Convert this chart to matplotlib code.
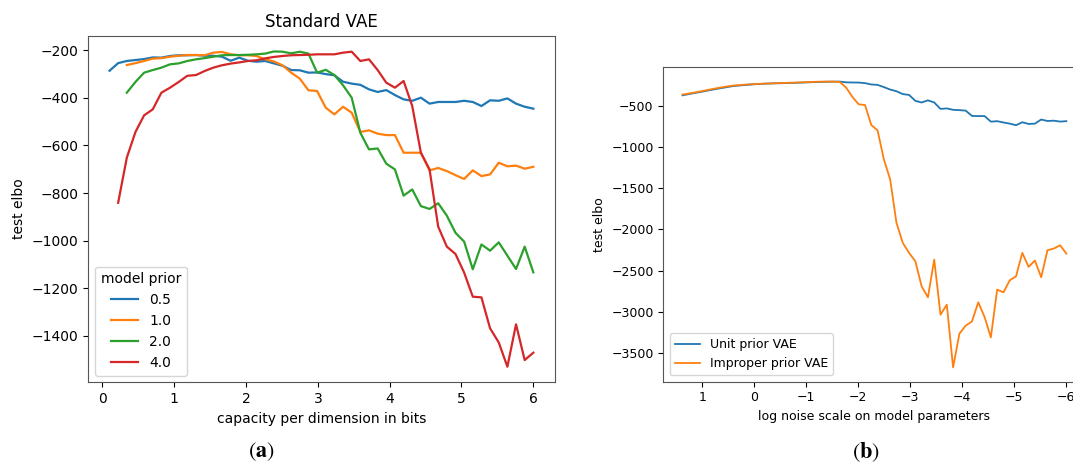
"""
Two VAE panels side by side: test elbo vs capacity (a) and vs log noise scale (b).
"""

import numpy as np
import matplotlib.pyplot as plt

plt.rcParams['mathtext.fontset'] = 'stix'

# (a) capacity per dimension in bits, common grid
capacity = np.linspace(0.1, 6.0, 50)

prior_05 = [-287, -255, -246, -242, -238, -231, -232, -225, -222, -222,
            -221, -224, -224, -228, -245, -232, -245, -249, -246, -256,
            -266, -284, -285, -295, -294, -301, -306, -333, -341, -346,
            -365, -376, -368, -389, -407, -413, -400, -425, -418, -418,
            -418, -413, -418, -435, -411, -413, -403, -425, -438, -446]

# starts at the third grid point
prior_10 = [-263, -255, -246, -236, -234, -228, -224, -221, -221, -222,
            -211, -208, -218, -222, -222, -225, -239, -248, -264, -295,
            -320, -369, -372, -442, -470, -438, -463, -544, -537, -551,
            -557, -557, -631, -631, -631, -705, -695, -708, -725, -741,
            -705, -729, -722, -673, -688, -685, -698, -690]

# starts at the third grid point
prior_20 = [-379, -334, -295, -284, -274, -260, -256, -246, -239, -234,
            -228, -222, -221, -221, -220, -218, -215, -206, -207, -214,
            -207, -215, -295, -283, -305, -348, -400, -547, -617, -613,
            -677, -701, -811, -785, -855, -867, -843, -895, -967, -1004,
            -1120, -1016, -1042, -1007, -1063, -1119, -1025, -1133]

# starts at the second grid point
prior_40 = [-841, -652, -544, -474, -449, -379, -358, -334, -308, -305,
            -288, -274, -264, -257, -252, -246, -243, -235, -229, -225,
            -222, -221, -220, -218, -218, -218, -211, -207, -246, -239,
            -284, -337, -358, -330, -435, -631, -701, -941, -1025, -1056,
            -1134, -1235, -1238, -1368, -1427, -1529, -1351, -1501, -1470]

prior_labels = ['0.5', '1.0', '2.0', '4.0']

# (b) log noise scale on model parameters (axis runs right to left)
noise = np.linspace(1.377, -6.0, 62)

unit_prior = [-370, -355, -341, -327, -312, -298, -284, -271, -258, -251,
              -244, -238, -233, -229, -226, -224, -222, -220, -218, -215,
              -212, -209, -207, -205, -204, -203, -212, -214, -215, -222,
              -238, -243, -270, -300, -320, -355, -365, -437, -457, -431,
              -457, -535, -529, -546, -550, -556, -620, -622, -622, -690,
              -684, -700, -714, -733, -697, -718, -714, -664, -682, -678,
              -689, -684]

improper_prior = [-361, -348, -335, -320, -305, -290, -276, -263, -252, -246,
                  -240, -235, -231, -228, -225, -222, -220, -217, -215, -212,
                  -209, -206, -204, -203, -203, -208, -276, -390, -479, -488,
                  -731, -796, -1149, -1392, -1919, -2162, -2284, -2386, -2691, -2824,
                  -2366, -3035, -2913, -3676, -3266, -3169, -3117, -2885, -3063, -3311,
                  -2731, -2764, -2618, -2569, -2284, -2454, -2378, -2581, -2252, -2232,
                  -2192, -2293]


fig = plt.figure(figsize=(10.73, 4.66), dpi=100)

# left panel
ax1 = fig.add_axes([0.0823, 0.1792, 0.4345, 0.7442])
ax1.plot(capacity, prior_05, label=prior_labels[0], linewidth=1.6)
ax1.plot(capacity[2:], prior_10, label=prior_labels[1], linewidth=1.6)
ax1.plot(capacity[2:], prior_20, label=prior_labels[2], linewidth=1.6)
ax1.plot(capacity[1:], prior_40, label=prior_labels[3], linewidth=1.6)
ax1.set_title('Standard VAE', fontsize=12)
ax1.set_xlabel('capacity per dimension in bits', fontsize=10)
ax1.set_ylabel('test elbo', fontsize=10)
ax1.tick_params(labelsize=10)
ax1.legend(title='model prior', loc='lower left', fontsize=10, title_fontsize=10)
for s in ax1.spines.values():
    s.set_color('#555555')

# right panel, cropped on the right like the original figure
ax2 = fig.add_axes([0.6182, 0.1809, 0.3935, 0.6747])
ax2.plot(noise, unit_prior, label='Unit prior VAE', linewidth=1.3)
ax2.plot(noise, improper_prior, label='Improper prior VAE', linewidth=1.3)
ax2.invert_xaxis()
ax2.set_xlabel('log noise scale on model parameters', fontsize=9)
ax2.set_ylabel('test elbo', fontsize=9)
ax2.tick_params(labelsize=9)
ax2.legend(loc='lower left', fontsize=9)
ax2.spines['right'].set_visible(False)
for s in ax2.spines.values():
    s.set_color('#555555')

# sub-figure captions
fig.text(0.244, 0.03, r'($\mathbf{a}$)', family='STIXGeneral', fontsize=16,
         ha='center', va='center')
fig.text(0.807, 0.03, r'($\mathbf{b}$)', family='STIXGeneral', fontsize=16,
         ha='center', va='center')

fig.savefig('out.png', dpi=100)
